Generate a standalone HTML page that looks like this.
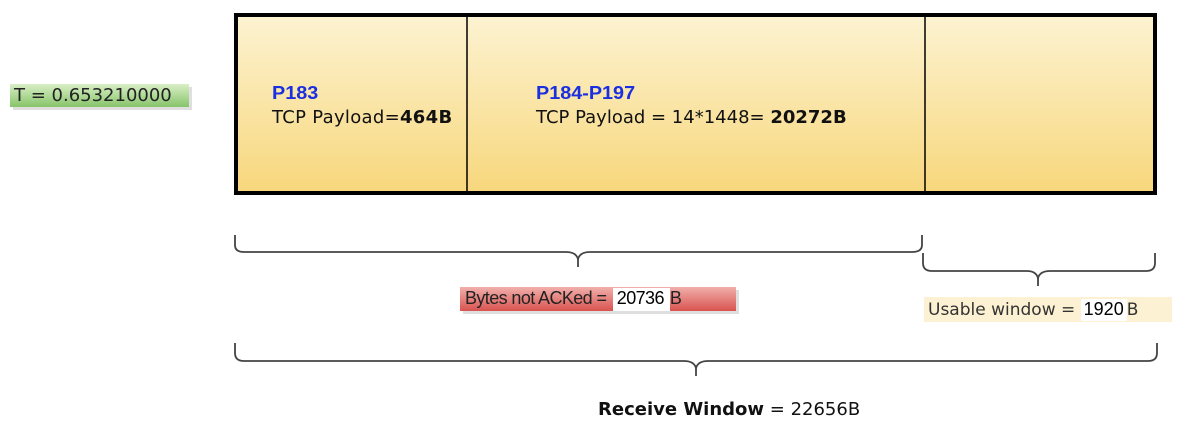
<!DOCTYPE html>
<html><head><meta charset="utf-8"><style>
body{margin:0;width:1190px;height:438px;background:#fff;overflow:hidden;font-family:"DejaVu Sans","Liberation Sans",sans-serif;position:relative}
.a{position:absolute;white-space:nowrap}
</style></head><body>
<svg width="1190" height="438" style="position:absolute;left:0;top:0">
<defs>
<linearGradient id="g" x1="0" y1="0" x2="0" y2="1"><stop offset="0" stop-color="#fdf3d2"/><stop offset="1" stop-color="#f7d77c"/></linearGradient>
<linearGradient id="gr" x1="0" y1="0" x2="0" y2="1"><stop offset="0" stop-color="#d9efc6"/><stop offset="1" stop-color="#86c46a"/></linearGradient>
<linearGradient id="rd" x1="0" y1="0" x2="0" y2="1"><stop offset="0" stop-color="#f1b0ac"/><stop offset="1" stop-color="#d9534f"/></linearGradient>
</defs>
<rect x="236" y="15" width="919" height="178" fill="url(#g)" stroke="#000" stroke-width="4"/>
<line x1="467" y1="15" x2="467" y2="193" stroke="#000" stroke-width="1.5"/>
<line x1="925" y1="15" x2="925" y2="193" stroke="#000" stroke-width="1.5"/>
<g fill="none" stroke="#444" stroke-width="1.8">
<path d="M235 235 V245 Q235 252 244 252 H566 Q576 252 578 259 Q580 252 590 252 H912 Q922 252 922 245 V235"/>
<line x1="578" y1="258" x2="578" y2="267"/>
<path d="M923 253 V263 Q923 271 932 271 H1027 Q1036 271 1038 278 Q1040 271 1050 271 H1146 Q1155 271 1155 263 V253"/>
<line x1="1038" y1="277" x2="1038" y2="286"/>
<path d="M235 343 V353 Q235 361 244 361 H684 Q694 361 696 368 Q698 361 708 361 H1148 Q1157 361 1157 353 V343"/>
<line x1="696" y1="367" x2="696" y2="376"/>
</g>
<rect x="13" y="87" width="179" height="23" fill="#c9c9c9" opacity="0.6"/>
<rect x="10" y="84" width="179" height="23" fill="url(#gr)"/>
<rect x="463" y="290" width="276" height="24" fill="#c9c9c9" opacity="0.6"/>
<rect x="460" y="287" width="276" height="24" fill="url(#rd)"/>
<rect x="924" y="297" width="248" height="25" fill="#fdf1d3"/>
</svg>
<div class="a" style="left:14px;top:85px;font-size:18px;color:#222">T = 0.653210000</div>
<div class="a" style="left:272px;top:83px;font-size:18px;font-weight:bold;color:#1a2fe0;font-family:'Liberation Sans',sans-serif;transform:scale(1.1,1);transform-origin:left">P183</div>
<div class="a" style="left:272px;top:107px;font-size:18px;color:#111;letter-spacing:0.3px">TCP Payload=<b>464B</b></div>
<div class="a" style="left:536px;top:83px;font-size:18px;font-weight:bold;color:#1a2fe0;font-family:'Liberation Sans',sans-serif;transform:scale(1.1,1);transform-origin:left">P184-P197</div>
<div class="a" style="left:536px;top:107px;font-size:18px;color:#111">TCP Payload = 14*1448= <b>20272B</b></div>
<div class="a" style="left:465px;top:288px;font-size:18px;color:#222;letter-spacing:-0.6px;font-family:'Liberation Sans',sans-serif">Bytes not ACKed = <span style="display:inline-block;background:#fff;color:#000;padding:0 6px 2px 4px;margin-left:2px">20736</span>B</div>
<div class="a" style="left:928px;top:299px;font-size:17px;color:#333">Usable window = <span style="display:inline-block;background:#fff;color:#000;padding:0 3px 1px 3px;font-family:'Liberation Sans',sans-serif;font-size:18px">1920</span>B</div>
<div class="a" style="left:598px;top:399px;font-size:18px;color:#111"><b>Receive Window</b> = 22656B</div>
</body></html>
